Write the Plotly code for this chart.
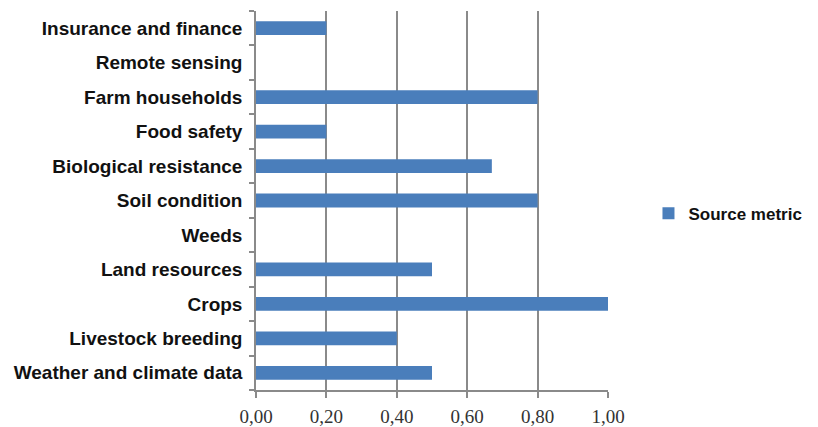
import plotly.graph_objects as go

categories = ["Weather and climate data", "Livestock breeding", "Crops", "Land resources",
              "Weeds", "Soil condition", "Biological resistance", "Food safety",
              "Farm households", "Remote sensing", "Insurance and finance"]
values = [0.50, 0.40, 1.00, 0.50, 0.0, 0.80, 0.67, 0.20, 0.80, 0.0, 0.20]
x_ticks = [0, 0.2, 0.4, 0.6, 0.8, 1.0]
series_name = "Source metric"

fig = go.Figure()
fig.add_trace(go.Bar(
    y=categories, x=values, orientation="h", name=series_name,
    marker=dict(color="#4A7EBB", line=dict(width=0)),
    showlegend=True,
))

fig.update_layout(
    width=818, height=427,
    margin=dict(l=256, r=208, t=11, b=37),
    paper_bgcolor="white", plot_bgcolor="white",
    separators=",.",
    bargap=0.6,
    showlegend=True,
    legend=dict(x=1.115, y=0.465, xanchor="left", yanchor="middle",
                font=dict(family="Liberation Sans, Arial", size=17, color="#111", weight="bold"),
                itemwidth=30, bgcolor="rgba(0,0,0,0)", borderwidth=0),
    xaxis=dict(range=[0, 1.0], tickvals=x_ticks, tickformat=".2f", automargin=False,
               showgrid=True, gridcolor="#8A8A8A", gridwidth=1.5,
               showline=True, linecolor="#8A8A8A", linewidth=1.5,
               ticks="outside", ticklen=6, tickcolor="#8A8A8A", tickwidth=1.5,
               tickfont=dict(family="Liberation Serif, Times New Roman", size=19, color="#333"),
               ticklabelstandoff=2,
               zeroline=False, fixedrange=True),
    yaxis=dict(type="category", automargin=False, showline=True, linecolor="#8A8A8A", linewidth=1.5,
               ticks="outside", ticklen=5, tickcolor="#8A8A8A", tickwidth=1.5,
               tickson="boundaries", showgrid=False,
               tickfont=dict(family="Liberation Sans, Arial", size=19, color="#111", weight="bold"),
               ticklabelstandoff=8, fixedrange=True),
)

fig.write_html("out.html")
